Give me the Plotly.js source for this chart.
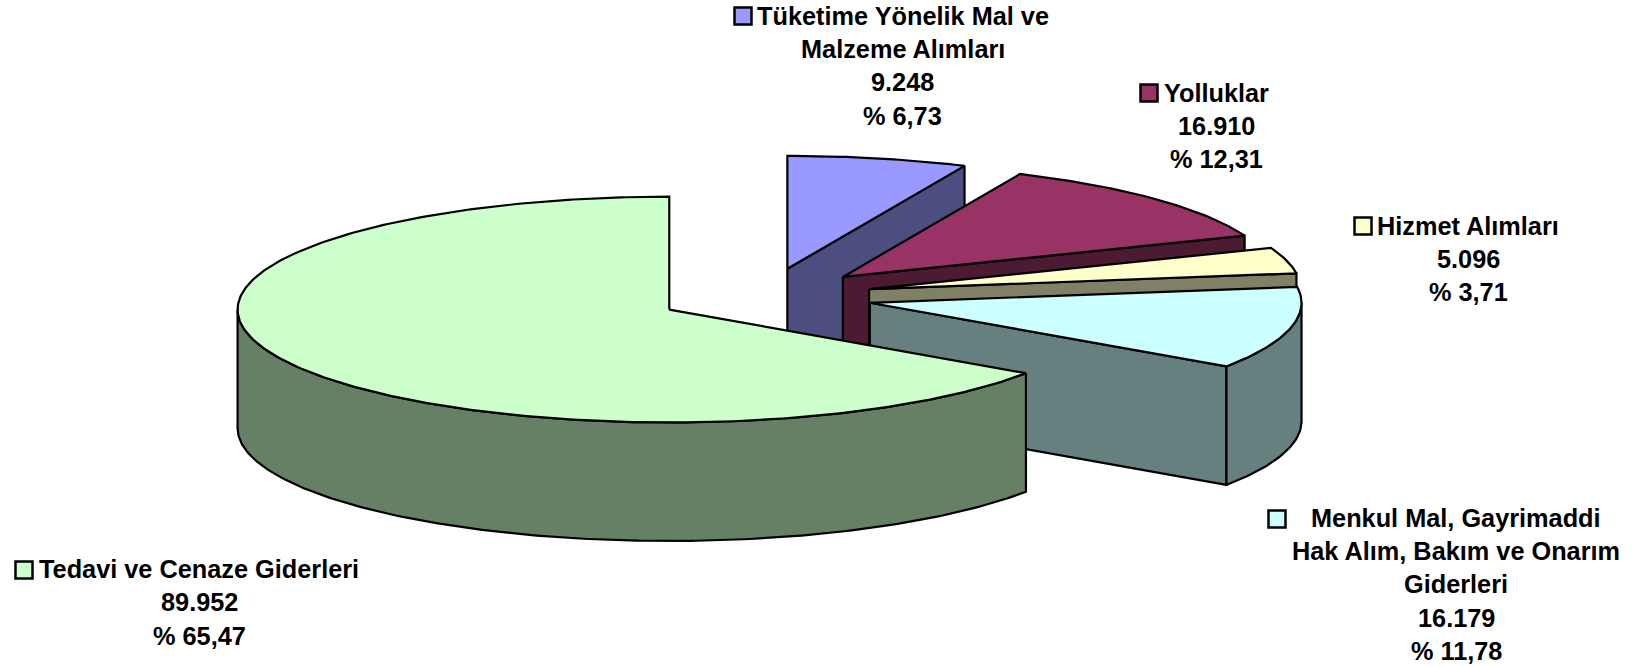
<!DOCTYPE html>
<html>
<head>
<meta charset="utf-8">
<script src="https://cdn.plot.ly/plotly-3.0.1.min.js"></script>
<style>html,body{margin:0;padding:0;background:#fff}#chart{width:1639px;height:667px}</style>
</head>
<body>
<div id="chart"></div>
<script>
// Data, clockwise from 12 o'clock
const categories = ["Tüketime Yönelik Mal ve Malzeme Alımları", "Yolluklar", "Hizmet Alımları", "Menkul Mal, Gayrimaddi Hak Alım, Bakım ve Onarım Giderleri", "Tedavi ve Cenaze Giderleri"];
const values = [9248, 16910, 5096, 16179, 89952];
const valueLabels = ["9.248", "16.910", "5.096", "16.179", "89.952"];
const percentLabels = ["% 6,73", "% 12,31", "% 3,71", "% 11,78", "% 65,47"];
const nameLines = [["Tüketime Yönelik Mal ve", "Malzeme Alımları"], ["Yolluklar"], ["Hizmet Alımları"], ["Menkul Mal, Gayrimaddi", "Hak Alım, Bakım ve Onarım", "Giderleri"], ["Tedavi ve Cenaze Giderleri"]];

// Styles
const topColors = ["#9999FF", "#993366", "#FFFFCC", "#CCFFFF", "#CCFFCC"];
const sideColors = ["#4D4D80", "#4D1A33", "#808066", "#668080", "#668066"];

// Projection of the tilted pie, in pixels
const W = 1639, H = 667;
const cx = 764.7, cy = 296.4, rx = 431.7, ry = 112.9, depth = 118.5, explode = 0.25;
const lineW = 2.2, fontSize = 25.3, lineStep = 33.3;

// Label placement: centre x, first baseline, key box
const labelX = [902.5, 1216.5, 1468, 1456, 199];
const labelY = [24.5, 101.5, 234.5, 526.5, 578];
const keyX = [734.5, 1140.5, 1354.5, 1268.5, 15.5];
const keyY = [7.5, 84.5, 217.5, 510.5, 561.5];
const keySize = 17;

const total = values.reduce((a, b) => a + b, 0);
const traces = [];
let acc = 0;
function poly(xs, ys, fill) {
  traces.push({type: "scatter", mode: "lines", x: xs.concat(xs[0]), y: ys.concat(ys[0]),
    fill: "toself", fillcolor: fill, line: {color: "#000", width: lineW, shape: "linear"},
    hoverinfo: "skip", showlegend: false});
}
values.forEach((v, i) => {
  const a0 = acc / total * 2 * Math.PI;
  const a1 = (acc + v) / total * 2 * Math.PI;
  acc += v;
  const mid = (a0 + a1) / 2;
  const ax = cx + explode * rx * Math.sin(mid);
  const ay = cy - explode * ry * Math.cos(mid);
  const px = a => ax + rx * Math.sin(a);
  const py = a => ay - ry * Math.cos(a);
  // cut faces facing the viewer
  if (Math.sin(a1) > 1e-6) {
    poly([ax, px(a1), px(a1), ax], [ay, py(a1), py(a1) + depth, ay + depth], sideColors[i]);
  }
  if (Math.sin(a0) < -1e-6) {
    poly([ax, px(a0), px(a0), ax], [ay, py(a0), py(a0) + depth, ay + depth], sideColors[i]);
  }
  // outer wall: only the near half of the rim
  const w0 = Math.max(a0, Math.PI / 2), w1 = Math.min(a1, 3 * Math.PI / 2);
  if (w1 > w0) {
    const xs = [], ys = [], n = Math.ceil((w1 - w0) * 80);
    for (let k = 0; k <= n; k++) { const a = w0 + (w1 - w0) * k / n; xs.push(px(a)); ys.push(py(a)); }
    for (let k = n; k >= 0; k--) { const a = w0 + (w1 - w0) * k / n; xs.push(px(a)); ys.push(py(a) + depth); }
    poly(xs, ys, sideColors[i]);
  }
  // top face
  const xs = [ax], ys = [ay], n = Math.ceil((a1 - a0) * 80);
  for (let k = 0; k <= n; k++) { const a = a0 + (a1 - a0) * k / n; xs.push(px(a)); ys.push(py(a)); }
  poly(xs, ys, topColors[i]);
});

const annotations = [], shapes = [];
categories.forEach((c, i) => {
  const lines = nameLines[i].concat(valueLabels[i], percentLabels[i]);
  lines.forEach((t, j) => {
    annotations.push({xref: "x", yref: "y", x: labelX[i], y: labelY[i] + j * lineStep - fontSize * 0.35,
      text: t, showarrow: false, xanchor: "center", yanchor: "middle",
      font: {family: "Liberation Sans, Arial, sans-serif", size: fontSize, color: "#000", weight: 700}});
  });
  shapes.push({type: "rect", xref: "x", yref: "y", x0: keyX[i], x1: keyX[i] + keySize, y0: keyY[i], y1: keyY[i] + keySize,
    fillcolor: topColors[i], line: {color: "#000", width: 2.5}});
});

Plotly.newPlot("chart", traces, {
  width: W, height: H, margin: {l: 0, r: 0, t: 0, b: 0, pad: 0},
  paper_bgcolor: "#fff", plot_bgcolor: "#fff", showlegend: false,
  xaxis: {range: [0, W], visible: false, fixedrange: true},
  yaxis: {range: [H, 0], visible: false, fixedrange: true},
  annotations, shapes
}, {displayModeBar: false, staticPlot: true});
</script>
</body>
</html>
